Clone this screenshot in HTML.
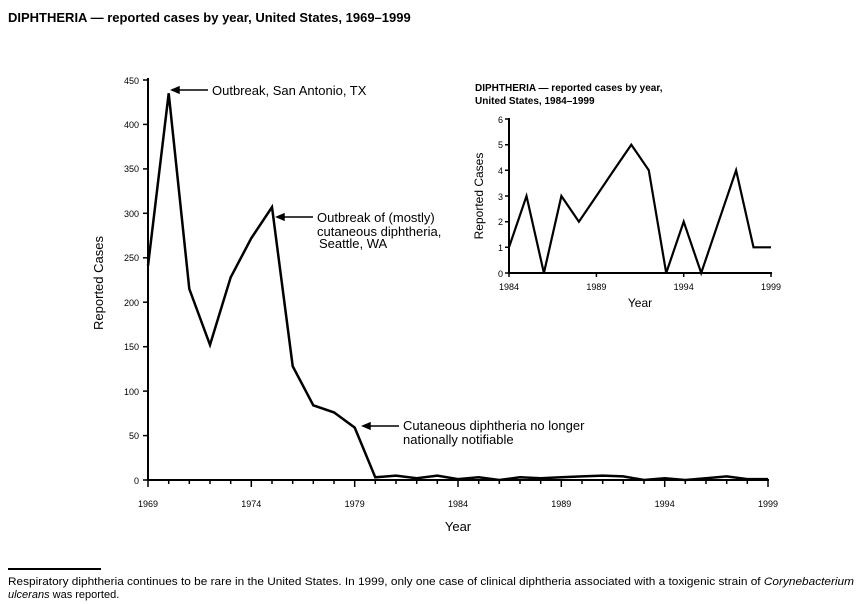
<!DOCTYPE html>
<html><head><meta charset="utf-8"><style>
body{margin:0;background:#fff;}
svg{display:block;font-family:"Liberation Sans",Arial,sans-serif;}
</style></head><body>
<svg width="860" height="604" viewBox="0 0 860 604" xmlns="http://www.w3.org/2000/svg">
<text x="8" y="22" font-size="13" font-weight="bold">DIPHTHERIA — reported cases by year, United States, 1969–1999</text>

<g stroke="#000" stroke-width="2" fill="none">
<line x1="148" y1="78" x2="148" y2="481"/>
<line x1="147" y1="480" x2="769" y2="480"/>
</g>
<g stroke="#000" stroke-width="1.5">
<line x1="143" y1="480" x2="148" y2="480"/><line x1="143" y1="435.6" x2="148" y2="435.6"/>
<line x1="143" y1="391.1" x2="148" y2="391.1"/><line x1="143" y1="346.7" x2="148" y2="346.7"/>
<line x1="143" y1="302.2" x2="148" y2="302.2"/><line x1="143" y1="257.8" x2="148" y2="257.8"/>
<line x1="143" y1="213.3" x2="148" y2="213.3"/><line x1="143" y1="168.9" x2="148" y2="168.9"/>
<line x1="143" y1="124.4" x2="148" y2="124.4"/><line x1="143" y1="80" x2="148" y2="80"/>
</g>
<g font-size="9" text-anchor="end">
<text x="139" y="484">0</text><text x="139" y="439">50</text><text x="139" y="395">100</text>
<text x="139" y="350">150</text><text x="139" y="306">200</text><text x="139" y="261">250</text>
<text x="139" y="217">300</text><text x="139" y="172">350</text><text x="139" y="128">400</text>
<text x="139" y="84">450</text>
</g>
<path stroke="#000" stroke-width="1.5" d="M148 480v7M168.7 480v4M189.3 480v4M210 480v4M230.7 480v4M251.3 480v7M272 480v4M292.7 480v4M313.3 480v4M334 480v4M354.7 480v7M375.3 480v4M396 480v4M416.7 480v4M437.3 480v4M458 480v7M478.7 480v4M499.3 480v4M520 480v4M540.7 480v4M561.3 480v7M582 480v4M602.7 480v4M623.3 480v4M644 480v4M664.7 480v7M685.3 480v4M706 480v4M726.7 480v4M747.3 480v4M768 480v7"/>
<g font-size="9" text-anchor="middle">
<text x="148" y="507">1969</text><text x="251.3" y="507">1974</text><text x="354.7" y="507">1979</text>
<text x="458" y="507">1984</text><text x="561.3" y="507">1989</text><text x="664.7" y="507">1994</text>
<text x="768" y="507">1999</text>
</g>
<text x="458" y="531" font-size="13" text-anchor="middle">Year</text>
<text transform="translate(103,283) rotate(-90)" font-size="13" text-anchor="middle">Reported Cases</text>

<polyline fill="none" stroke="#000" stroke-width="2.5" stroke-linejoin="miter" points="148,265.8 168.7,93.3 189.3,288.9 210,344.9 230.7,277.3 251.3,238.2 272,207.1 292.7,366.2 313.3,405.3 334,412.4 354.7,427.6 375.3,477.3 396,475.6 416.7,478.2 437.3,475.6 458,479.1 478.7,477.3 499.3,480 520,477.3 540.7,478.2 561.3,477.3 582,476.4 602.7,475.6 623.3,476.4 644,480 664.7,478.2 685.3,480 706,478.2 726.7,476.4 747.3,479.1 768,479.1"/>

<g stroke="#000" stroke-width="1.5" fill="#000">
<line x1="176" y1="90" x2="208" y2="90"/><polygon points="172,90 179,87 179,93"/>
<line x1="281" y1="217" x2="313" y2="217"/><polygon points="277,217 284,214 284,220"/>
<line x1="367" y1="426" x2="399" y2="426"/><polygon points="363,426 370,423 370,429"/>
</g>
<g font-size="13">
<text x="212" y="95">Outbreak, San Antonio, TX</text>
<text x="317" y="222">Outbreak of (mostly)</text>
<text x="317" y="236">cutaneous diphtheria,</text>
<text x="319" y="248">Seattle, WA</text>
<text x="403" y="430">Cutaneous diphtheria no longer</text>
<text x="403" y="444">nationally notifiable</text>
</g>

<text x="475" y="91" font-size="10" font-weight="bold">DIPHTHERIA — reported cases by year,</text>
<text x="475" y="104" font-size="10" font-weight="bold">United States, 1984–1999</text>
<g stroke="#000" stroke-width="2" fill="none">
<line x1="509" y1="118" x2="509" y2="274"/>
<line x1="508" y1="273" x2="772" y2="273"/>
</g>
<path stroke="#000" stroke-width="1.5" d="M505 273h4M505 247.3h4M505 221.7h4M505 196h4M505 170.3h4M505 144.7h4M505 119h4M509 273v4M596.4 273v4M683.7 273v4M771 273v4"/>
<g font-size="9" text-anchor="end">
<text x="503" y="277">0</text><text x="503" y="251">1</text><text x="503" y="225">2</text>
<text x="503" y="200">3</text><text x="503" y="174">4</text><text x="503" y="148">5</text><text x="503" y="123">6</text>
</g>
<g font-size="9" text-anchor="middle">
<text x="509" y="290">1984</text><text x="596.4" y="290">1989</text><text x="683.7" y="290">1994</text><text x="771" y="290">1999</text>
</g>
<text x="640" y="307" font-size="12" text-anchor="middle">Year</text>
<text transform="translate(483,196) rotate(-90)" font-size="12" text-anchor="middle">Reported Cases</text>
<polyline fill="none" stroke="#000" stroke-width="2.2" points="509,247.3 526.5,196 543.9,273 561.4,196 578.9,221.7 596.4,196 613.8,170.3 631.3,144.7 648.8,170.3 666.2,273 683.7,221.7 701.2,273 718.6,221.7 736.1,170.3 753.5,247.3 771,247.3"/>

<line x1="8" y1="569" x2="101" y2="569" stroke="#000" stroke-width="2"/>
<text x="8" y="585" font-size="11" textLength="846" lengthAdjust="spacingAndGlyphs">Respiratory diphtheria continues to be rare in the United States. In 1999, only one case of clinical diphtheria associated with a toxigenic strain of <tspan font-style="italic">Corynebacterium</tspan></text>
<text x="8" y="598" font-size="11"><tspan font-style="italic">ulcerans</tspan> was reported.</text>
</svg>
</body></html>
